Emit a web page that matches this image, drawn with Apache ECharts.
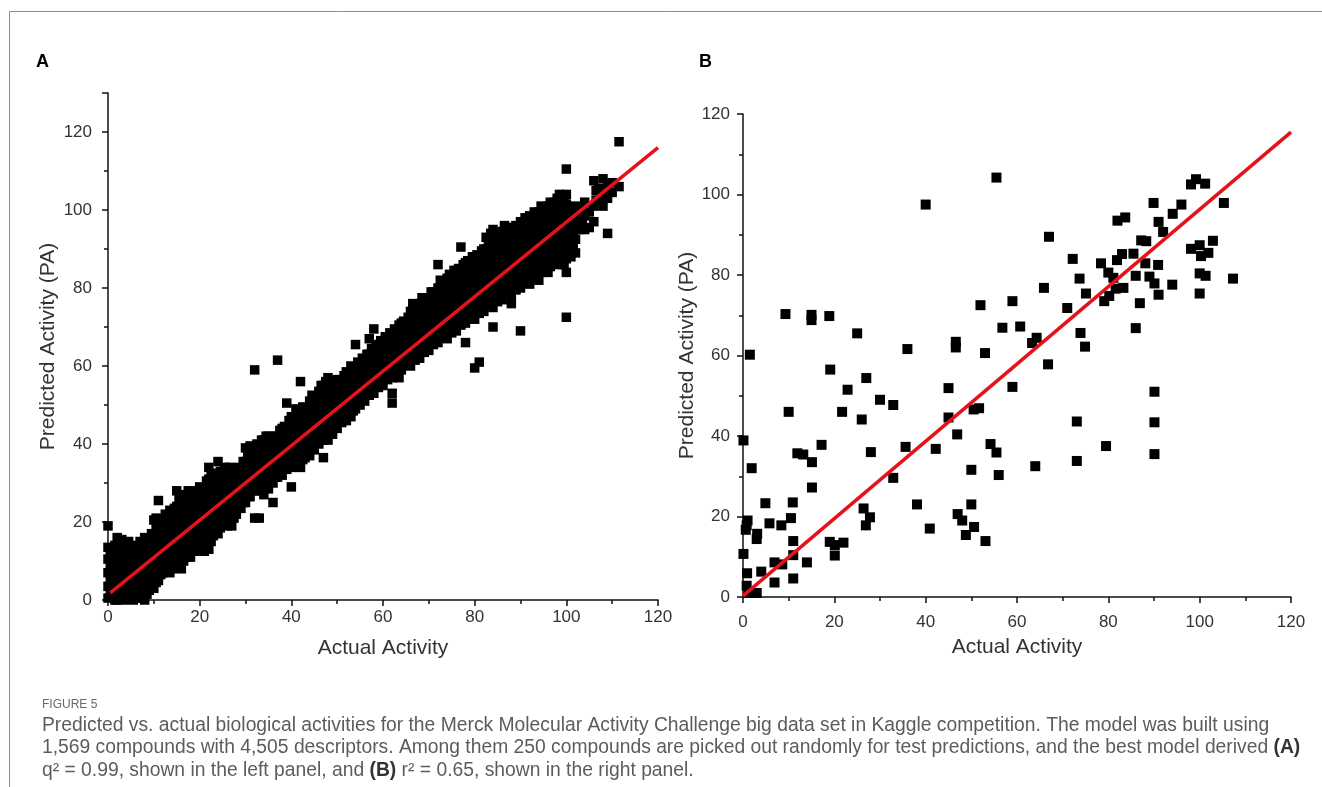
<!DOCTYPE html>
<html>
<head>
<meta charset="utf-8">
<title>Figure 5</title>
<script src="https://cdn.jsdelivr.net/npm/echarts@6/dist/echarts.min.js"></script>
<style>
  html, body { margin: 0; padding: 0; background: #fff; }
  #chart { width: 1322px; height: 787px; }
</style>
</head>
<body>
<div id="chart"></div>
<script>
// panel A: predicted activity values, grouped by actual activity
const columnsA = [
  [0, [0.5, 3.5, 7, 10.5, 13.5, 19]],
  [1, [1.5, 5, 8.5, 12]],
  [2, [0, 3, 6.5, 10, 13.5, 16]],
  [3, [1.5, 5, 8.5, 12, 15.5]],
  [4, [0.5, 3.5, 7, 10.5, 13]],
  [5, [2, 5.5, 9, 12.5]],
  [6, [0.5, 4, 7.5, 11, 14]],
  [7, [2, 5.5, 9, 12.5, 15]],
  [8, [0, 3.5, 7, 10.5, 14, 16]],
  [9, [2.5, 6, 9.5, 13, 15.5]],
  [10, [3, 6.5, 10, 13.5, 17, 20.5]],
  [11, [5, 8.5, 12, 15.5, 19, 25.5]],
  [12, [7, 10.5, 14, 17.5, 20]],
  [13, [8.5, 12, 15.5, 19, 21]],
  [14, [8, 11.5, 15, 18.5, 22]],
  [15, [10, 13.5, 17, 20.5, 24, 28]],
  [16, [8, 11.5, 15, 18.5, 22, 26]],
  [17, [12.5, 16, 19.5, 23, 26]],
  [18, [11, 14.5, 18, 21.5, 25, 27.5]],
  [19, [12.5, 16, 19.5, 23, 27]],
  [20, [13, 16.5, 20, 23.5, 27, 29]],
  [21, [12.5, 15, 18.5, 22, 25.5, 28]],
  [22, [13, 17, 20.5, 24, 27.5, 31, 34]],
  [23, [16.5, 20, 23.5, 27, 30]],
  [24, [17, 20.5, 24, 27.5, 31, 35.5]],
  [25, [19.5, 23, 26.5, 30, 32]],
  [26, [19, 22.5, 26, 29.5, 32.5]],
  [27, [19, 23.5, 27, 30.5, 33]],
  [28, [22, 25.5, 29, 32.5]],
  [29, [23.5, 27, 30.5, 33.5]],
  [30, [25, 28.5, 32, 35.5, 39]],
  [31, [26.5, 30, 33.5, 37, 39.5]],
  [32, [21, 28, 31.5, 35, 38.5, 59]],
  [33, [21, 29, 32.5, 36, 39.5]],
  [34, [27, 30.5, 34, 37.5, 41]],
  [35, [28.5, 32, 35.5, 39, 42]],
  [36, [25, 30, 33.5, 37, 40.5]],
  [37, [31.5, 35, 38.5, 42, 61.5]],
  [38, [32, 35.5, 39, 42.5, 44]],
  [39, [33.5, 37, 40.5, 44, 50.5]],
  [40, [29, 34, 37.5, 41, 44.5, 47]],
  [41, [35, 38.5, 42, 45.5, 49]],
  [42, [34, 37.5, 41, 44.5, 48, 56]],
  [43, [36.5, 40, 43.5, 47, 49]],
  [44, [37, 40.5, 44, 47.5, 51]],
  [45, [38.5, 42, 45.5, 49, 52]],
  [46, [40, 43.5, 47, 50.5, 53.5]],
  [47, [36.5, 41, 44.5, 48, 51.5, 55]],
  [48, [41, 44.5, 48, 51.5, 55, 57]],
  [49, [42.5, 46, 49.5, 53, 56]],
  [50, [44, 47.5, 51, 54.5, 56.5]],
  [51, [45.5, 49, 52.5, 56]],
  [52, [46, 49.5, 53, 56.5, 58.5]],
  [53, [47, 50.5, 54, 57.5, 60]],
  [54, [49, 52.5, 56, 59.5, 65.5]],
  [55, [50, 53.5, 57, 60.5]],
  [56, [51, 54.5, 58, 61.5]],
  [57, [52.5, 56, 59.5, 63, 67]],
  [58, [53, 56.5, 60, 63.5, 69.5]],
  [59, [54.5, 58, 61.5, 65]],
  [60, [55, 58.5, 62, 65.5]],
  [61, [56.5, 60, 63.5, 67]],
  [62, [50.5, 53, 57, 60.5, 64, 67.5]],
  [63, [58.5, 62, 65.5, 69]],
  [64, [59, 62.5, 66, 69.5, 71]],
  [65, [60.5, 64, 67.5, 71]],
  [66, [60, 63.5, 67, 70.5, 74]],
  [67, [61.5, 65, 68.5, 72, 75.5]],
  [68, [62, 65.5, 69, 72.5, 76]],
  [69, [63.5, 67, 70.5, 74, 77]],
  [70, [64, 67.5, 71, 74.5, 77.5]],
  [71, [65.5, 69, 72.5, 76, 79]],
  [72, [66, 69.5, 73, 76.5, 80, 86]],
  [73, [67.5, 71, 74.5, 78, 81]],
  [74, [67, 70.5, 74, 77.5, 81, 82.5]],
  [75, [68.5, 72, 75.5, 79, 83]],
  [76, [69, 72.5, 76, 79.5, 83, 84.5]],
  [77, [70.5, 74, 77.5, 81, 84.5, 90.5]],
  [78, [66, 71, 74.5, 78, 81.5, 85, 86.5]],
  [79, [72.5, 76, 79.5, 83, 86.5]],
  [80, [59.5, 72, 75.5, 79, 82.5, 86, 88]],
  [81, [61, 73.5, 77, 80.5, 84, 87.5]],
  [82, [74, 77.5, 81, 84.5, 88, 90]],
  [83, [75.5, 79, 82.5, 86, 89.5, 92]],
  [84, [70, 75, 78.5, 82, 85.5, 89, 92.5, 95]],
  [85, [76.5, 80, 83.5, 87, 90.5, 94]],
  [86, [77, 80.5, 84, 87.5, 91, 94.5]],
  [87, [78.5, 82, 85.5, 89, 92.5, 95.5]],
  [88, [76, 78, 81.5, 85, 88.5, 92, 95.5]],
  [89, [79.5, 83, 86.5, 90, 93.5, 96]],
  [90, [69, 80, 83.5, 87, 90.5, 94, 97]],
  [91, [81.5, 85, 88.5, 92, 95.5, 98]],
  [92, [81, 84.5, 88, 91.5, 95, 98.5]],
  [93, [82.5, 86, 89.5, 93, 96.5, 99.5]],
  [94, [82, 85.5, 89, 92.5, 96, 99.5]],
  [95, [84.5, 88, 91.5, 95, 98.5, 100.5]],
  [96, [84, 87.5, 91, 94.5, 98, 101]],
  [97, [86.5, 90, 93.5, 97, 100.5]],
  [98, [86, 89.5, 93, 96.5, 100, 103]],
  [99, [88.5, 92, 95.5, 99, 102.5]],
  [100, [72.5, 84, 87.5, 91, 94.5, 98, 101.5, 104, 110.5]],
  [101, [88, 91.5, 95, 98.5, 101]],
  [102, [89, 92.5, 96, 99]],
  [103, [95, 97.5, 101]],
  [104, [95, 98.5, 102]],
  [105, [95.5, 99.5]],
  [106, [97, 101, 107.5]],
  [107, [102.5, 105.5]],
  [108, [101, 104.5, 108]],
  [109, [94, 103, 106.5]],
  [110, [104.5, 107]],
  [111.5, [106, 117.5]]
];

// panel A: more compounds packed between the columns above (the band is solid black)
const columnsA2 = [
  [0.5, [2, 5.5, 9, 12.5]],
  [1.5, [0, 3.5, 7, 10.5, 14]],
  [2.5, [1.5, 5, 8.5, 12, 14.5]],
  [3.5, [0, 3.5, 7, 10.5, 13.5]],
  [4.5, [2, 5.5, 9, 12, 15]],
  [5.5, [0, 3.5, 7, 10.5, 13.5]],
  [6.5, [2, 6, 9.5, 12.5]],
  [7.5, [0.5, 4, 7.5, 11, 14]],
  [8.5, [1.5, 5, 8.5, 12, 15]],
  [9.5, [4, 7.5, 11, 14.5, 17]],
  [10.5, [4.5, 8, 11.5, 15, 18.5, 21]],
  [11.5, [6.5, 10, 13.5, 17, 20.5]],
  [12.5, [8.5, 12, 15.5, 19, 22]],
  [13.5, [7, 10.5, 14, 17.5, 20.5, 23]],
  [14.5, [9.5, 13, 16.5, 20, 23.5]],
  [15.5, [9, 12, 15.5, 19, 22.5, 26]],
  [16.5, [10, 13.5, 17, 20.5, 24, 27]],
  [17.5, [11, 14, 17.5, 21, 24.5, 28]],
  [18.5, [12.5, 16, 19.5, 23, 26.5]],
  [19.5, [14, 17.5, 21, 24.5, 28]],
  [20.5, [14.5, 18, 21.5, 25, 28.5]],
  [21.5, [16.5, 20, 23.5, 27, 30.5]],
  [22.5, [15, 18.5, 22, 25.5, 29, 32.5]],
  [23.5, [18, 21.5, 25, 28.5, 32]],
  [24.5, [18.5, 22, 25.5, 29, 33]],
  [25.5, [21, 24.5, 28, 31.5, 34]],
  [26.5, [20.5, 24, 27.5, 31, 34]],
  [27.5, [21, 25, 28.5, 32]],
  [28.5, [23.5, 27, 30.5, 34]],
  [29.5, [25, 28.5, 32, 35.5]],
  [30.5, [26.5, 30, 33.5, 37]],
  [31.5, [28, 31.5, 35, 38.5]],
  [32.5, [29.5, 33, 36.5, 40]],
  [33.5, [28, 31, 34.5, 38, 41]],
  [34.5, [29, 32.5, 36, 39.5, 42]],
  [35.5, [30.5, 34, 37.5, 41]],
  [36.5, [31.5, 35, 38.5, 42]],
  [37.5, [33, 36.5, 40, 43.5]],
  [38.5, [34, 37.5, 41, 44.5]],
  [39.5, [35.5, 39, 42.5, 46]],
  [40.5, [36, 39.5, 43, 46.5]],
  [41.5, [37, 40.5, 44, 47.5]],
  [42.5, [36, 39, 42.5, 46, 49.5]],
  [43.5, [38.5, 42, 45.5, 49]],
  [44.5, [39.5, 43, 46.5, 50, 52.5]],
  [45.5, [41, 44.5, 48, 51.5]],
  [46.5, [42, 45.5, 49, 52.5, 55]],
  [47.5, [43, 46.5, 50, 53.5, 56]],
  [48.5, [43.5, 47, 50.5, 54]],
  [49.5, [44.5, 48, 51.5, 55]],
  [50.5, [46, 49.5, 53, 56.5]],
  [51.5, [47, 50.5, 54, 57.5]],
  [52.5, [48, 51.5, 55, 58]],
  [53.5, [48.5, 52, 55.5, 59]],
  [54.5, [50.5, 54, 57.5, 61]],
  [55.5, [51.5, 55, 58.5, 62]],
  [56.5, [52.5, 56, 59.5, 63]],
  [57.5, [54, 57.5, 61, 64.5]],
  [58.5, [55, 58.5, 62, 65.5]],
  [59.5, [56, 59.5, 63, 66.5]],
  [60.5, [57, 60.5, 64, 67.5]],
  [61.5, [58, 61.5, 65, 68.5]],
  [62.5, [59, 62.5, 66, 69.5]],
  [63.5, [57, 60.5, 64, 67.5, 70.5]],
  [64.5, [61, 64.5, 68, 71.5]],
  [65.5, [62, 65.5, 69, 72.5]],
  [66.5, [62.5, 66, 69.5, 73, 76]],
  [67.5, [63.5, 67, 70.5, 74]],
  [68.5, [64, 67.5, 71, 74.5, 77.5]],
  [69.5, [65.5, 69, 72.5, 76]],
  [70.5, [66, 69.5, 73, 76.5, 79]],
  [71.5, [67.5, 71, 74.5, 78]],
  [72.5, [68, 71.5, 75, 78.5, 82]],
  [73.5, [69, 72.5, 76, 79.5]],
  [74.5, [69, 72.5, 76, 79.5, 83.5]],
  [75.5, [70.5, 74, 77.5, 81, 84.5]],
  [76.5, [71, 74.5, 78, 81.5, 85]],
  [77.5, [72.5, 76, 79.5, 83, 86]],
  [78.5, [73, 76.5, 80, 83.5, 87]],
  [79.5, [74, 77.5, 81, 84.5, 88]],
  [80.5, [74.5, 78, 81.5, 85, 88.5]],
  [81.5, [75.5, 79, 82.5, 86, 89.5]],
  [82.5, [76, 79.5, 83, 86.5, 90, 93]],
  [83.5, [77, 80.5, 84, 87.5, 91, 94]],
  [84.5, [78, 81.5, 85, 88.5, 92]],
  [85.5, [78.5, 82, 85.5, 89, 92.5]],
  [86.5, [79, 82.5, 86, 89.5, 93, 96]],
  [87.5, [80, 83.5, 87, 90.5, 94]],
  [88.5, [80.5, 84, 87.5, 91, 94.5]],
  [89.5, [81.5, 85, 88.5, 92, 95.5]],
  [90.5, [82, 85.5, 89, 92.5, 96]],
  [91.5, [83, 86.5, 90, 93.5, 97]],
  [92.5, [83.5, 87, 90.5, 94, 97.5]],
  [93.5, [84, 87.5, 91, 94.5, 98]],
  [94.5, [84, 87.5, 91, 94.5, 98, 101]],
  [95.5, [86, 89.5, 93, 96.5, 100]],
  [96.5, [85.5, 89, 92.5, 96, 99.5, 102]],
  [97.5, [88, 91.5, 95, 98.5, 102]],
  [98.5, [87.5, 91, 94.5, 98, 101.5, 104]],
  [99.5, [86, 89.5, 93, 96.5, 100, 103.5]],
  [100.5, [90, 93.5, 97, 100.5]],
  [101.5, [90.5, 94, 97.5, 100.5]],
  [103.5, [96.5, 100]],
  [106.5, [102.5, 105]]
];

// panel B: [actual, predicted] for the 250 test compounds
const pointsB = [
  [55.5, 104.2], [40.0, 97.5], [98.1, 102.5], [99.2, 103.8], [101.2, 102.7], [89.9, 97.9],
  [96.0, 97.5], [105.3, 97.9], [94.1, 95.2], [82.0, 93.5], [83.7, 94.3], [91.0, 93.2],
  [92.0, 90.7], [67.0, 89.5], [87.2, 88.6], [88.3, 88.4], [98.1, 86.5], [100.0, 87.4],
  [102.9, 88.5], [101.9, 85.5], [100.3, 84.7], [83.0, 85.2], [85.5, 85.3], [81.9, 83.7],
  [72.2, 84.0], [78.4, 82.9], [88.1, 82.9], [90.9, 82.5], [86.0, 79.8], [89.0, 79.6],
  [80.0, 80.6], [81.1, 79.3], [73.7, 79.1], [65.9, 76.8], [100.0, 80.4], [101.3, 79.8],
  [107.3, 79.1], [90.1, 77.9], [94.0, 77.6], [91.0, 75.1], [100.0, 75.4], [75.1, 75.4],
  [79.1, 73.5], [80.2, 74.8], [83.3, 76.8], [81.6, 76.6], [86.9, 73.0], [59.0, 73.5],
  [52.0, 72.5], [71.0, 71.8], [86.0, 66.8], [56.8, 66.9], [60.7, 67.2], [73.9, 65.6],
  [64.3, 64.4], [63.3, 63.1], [74.9, 62.2], [46.6, 63.4], [46.6, 62.0], [36.0, 61.6],
  [53.0, 60.6], [66.8, 57.8], [1.5, 60.2], [9.3, 70.3], [15.0, 70.1], [15.0, 68.8],
  [18.9, 69.8], [25.0, 65.5], [19.1, 56.5], [27.0, 54.4], [22.9, 51.5], [45.0, 51.9],
  [59.0, 52.2], [30.0, 49.0], [32.9, 47.7], [10.0, 46.0], [21.7, 46.0], [26.0, 44.1],
  [45.0, 44.6], [50.5, 46.6], [51.7, 46.9], [90.1, 51.0], [90.1, 43.4], [73.1, 43.6],
  [46.9, 40.4], [0.1, 38.9], [17.2, 37.8], [35.6, 37.3], [42.2, 36.8], [54.2, 38.0],
  [55.5, 35.9], [28.0, 36.0], [11.9, 35.7], [13.2, 35.4], [15.1, 33.5], [79.5, 37.5],
  [90.1, 35.5], [73.1, 33.8], [64.0, 32.5], [56.0, 30.3], [50.0, 31.6], [1.9, 32.0],
  [15.1, 27.2], [32.9, 29.6], [4.9, 23.3], [10.9, 23.5], [38.1, 23.0], [50.0, 23.0],
  [26.4, 22.0], [27.8, 19.8], [26.9, 17.8], [47.0, 20.6], [48.0, 19.0], [50.6, 17.4],
  [48.8, 15.4], [53.1, 13.9], [40.9, 17.0], [10.5, 19.6], [5.8, 18.3], [8.4, 17.8],
  [1.0, 19.0], [0.8, 17.8], [0.6, 16.7], [3.1, 15.7], [3.0, 14.4], [11.0, 13.9],
  [19.0, 13.7], [22.0, 13.5], [20.1, 12.9], [20.1, 10.3], [11.0, 10.4], [0.1, 10.7],
  [6.9, 8.6], [8.6, 8.1], [14.0, 8.6], [4.0, 6.3], [0.9, 5.9], [11.0, 4.6],
  [6.9, 3.6], [0.8, 2.8], [3.0, 1.0], [1.2, 1.0]
];

// red fit lines (end points)
const fitA = [[0.5, 1.8], [120, 116]];
const fitB = [[0, 0.3], [120, 115.5]];

// axis ranges and tick step
const xRange = [0, 120];
const yRangeA = [0, 130];
const yRangeB = [0, 120];
const tickStep = 20;

const captionHead = 'FIGURE 5';
const captionLines = [
  'Predicted vs. actual biological activities for the Merck Molecular Activity Challenge big data set in Kaggle competition. The model was built using',
  '1,569 compounds with 4,505 descriptors. Among them 250 compounds are picked out randomly for test predictions, and the best model derived {b|(A)}',
  'q\u00b2 = 0.99, shown in the left panel, and {b|(B)} r\u00b2 = 0.65, shown in the right panel.'
];

const pointsA = [];
columnsA.concat(columnsA2).forEach(([x, ys]) => ys.forEach(y => pointsA.push([x, y])));

const font = 'Liberation Sans';
const ink = '#111';

function axis(grid, range, name, nameGap, labelMargin, hideMax) {
  return {
    type: 'value',
    gridIndex: grid,
    min: range[0],
    max: range[1],
    interval: tickStep,
    name: name,
    nameLocation: 'middle',
    nameGap: nameGap,
    nameTextStyle: { color: '#333', fontSize: 21, fontFamily: font },
    axisLine: { onZero: false, lineStyle: { color: ink, width: 1.5 } },
    axisTick: { length: 6, lineStyle: { color: ink, width: 1.5 } },
    minorTick: { show: true, splitNumber: 2, length: 4, lineStyle: { color: ink, width: 1.5 } },
    splitLine: { show: false },
    minorSplitLine: { show: false },
    axisLabel: {
      color: '#333', fontSize: 17, fontFamily: font, margin: labelMargin,
      showMaxLabel: !hideMax
    }
  };
}

const chart = echarts.init(document.getElementById('chart'));
chart.setOption({
  animation: false,
  grid: [
    { left: 108, top: 93, width: 550, height: 507, containLabel: false, outerBoundsMode: 'none' },
    { left: 743, top: 114, width: 548, height: 483, containLabel: false, outerBoundsMode: 'none' }
  ],
  xAxis: [
    axis(0, xRange, 'Actual Activity', 38, 9, false),
    axis(1, xRange, 'Actual Activity', 40, 17, false)
  ],
  yAxis: [
    axis(0, yRangeA, 'Predicted Activity (PA)', 49, 16, true),
    axis(1, yRangeB, 'Predicted Activity (PA)', 43, 13, false)
  ],
  series: [
    {
      type: 'scatter', xAxisIndex: 0, yAxisIndex: 0, data: pointsA,
      symbol: 'rect', symbolSize: 9.5, itemStyle: { color: '#000', opacity: 1 }, silent: true
    },
    {
      type: 'line', xAxisIndex: 0, yAxisIndex: 0, data: fitA, symbol: 'none',
      lineStyle: { color: '#e5121b', width: 3.5 }, silent: true, z: 5
    },
    {
      type: 'scatter', xAxisIndex: 1, yAxisIndex: 1, data: pointsB,
      symbol: 'rect', symbolSize: 10, itemStyle: { color: '#000', opacity: 1 }, silent: true
    },
    {
      type: 'line', xAxisIndex: 1, yAxisIndex: 1, data: fitB, symbol: 'none',
      lineStyle: { color: '#e5121b', width: 3.5 }, silent: true, z: 5
    }
  ],
  graphic: [
    {
      type: 'polyline', silent: true,
      shape: { points: [[9.5, 787], [9.5, 11.5], [1322, 11.5]] },
      style: { stroke: '#8c8c8c', lineWidth: 1, fill: null }
    },
    {
      type: 'text', left: 36, top: 53,
      style: { text: 'A', font: 'bold 18px "Liberation Sans"', fill: '#000' }
    },
    {
      type: 'text', left: 699, top: 53,
      style: { text: 'B', font: 'bold 18px "Liberation Sans"', fill: '#000' }
    },
    {
      type: 'text', left: 42, top: 699,
      style: { text: captionHead, font: '12px "Liberation Sans"', fill: '#6a6a6a' }
    }
  ].concat(captionLines.map((line, i) => ({
    type: 'text', left: 42, top: 716 + i * 22.5,
    style: {
      text: line,
      font: '19.3px "Liberation Sans"',
      fill: '#5c5c5c',
      rich: { b: { fontWeight: 'bold', fill: '#333', fontSize: 19.3, fontFamily: font } }
    }
  })))
});
</script>
</body>
</html>
